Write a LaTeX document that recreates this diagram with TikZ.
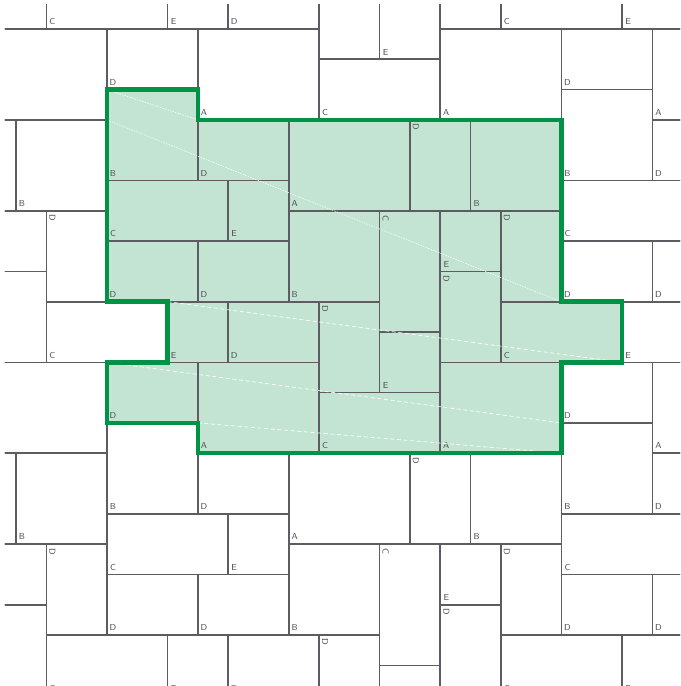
\documentclass[tikz,border=0pt]{standalone}
\definecolor{tilegreen}{RGB}{195,228,210}
\definecolor{edgegreen}{RGB}{0,146,69}
\definecolor{jointgray}{RGB}{92,92,98}
\tikzset{
  joint/.style={draw=jointgray, line width=1.2pt},
  tag/.style={font=\sffamily\fontsize{6.5}{7}\selectfont, text=jointgray!85!black, inner sep=0pt},
  outline/.style={draw=edgegreen, line width=3.4pt, line join=miter},
  guide/.style={draw=white, line width=0.5pt, dash pattern=on 1pt off 1pt},
  guidelong/.style={draw=white, line width=0.5pt, dash pattern=on 3pt off 2pt},
}
\begin{document}
\begin{tikzpicture}[x=0.8cm, y=-0.8cm]
  \useasboundingbox (-0.528,-0.957) rectangle (21.914,21.683);
  \clip (-0.363,-0.792) rectangle (21.914,21.683);

  % Vùng cơ sở tô màu
  \fill[tilegreen] (3,2) -- (6,2) -- (6,3) -- (18,3) -- (18,9) -- (20,9) -- (20,11)
    -- (18,11) -- (18,14) -- (6,14) -- (6,13) -- (3,13) -- (3,11) -- (5,11)
    -- (5,9) -- (3,9) -- cycle;

  % Các viên gạch, lặp theo chu kỳ 15 x 11
  \foreach \dx [count=\p] in {-15,0,15} {
    \foreach \dy [count=\q] in {-11,0,11} {
      \foreach \x/\y/\w/\h/\t/\r [count=\i] in {
          3/2/3/3/B/0, 6/3/3/2/D/0, 9/3/4/3/A/0, 13/3/2/3/D/1, 15/3/3/3/B/0,
          3/5/4/2/C/0, 7/5/2/2/E/0, 3/7/3/2/D/0, 6/7/3/2/D/0, 9/6/3/3/B/0,
          12/6/2/4/C/1, 14/6/2/2/E/0, 16/6/2/3/D/1, 14/8/2/3/D/1, 16/9/4/2/C/0,
          12/10/2/2/E/0, 10/9/2/3/D/1, 10/12/4/2/C/0, 14/11/4/3/A/0, 5/9/2/2/E/0,
          7/9/3/2/D/0, 3/11/3/2/D/0, 6/11/4/3/A/0} {
        \draw[joint] (\x+\dx,\y+\dy) rectangle ++(\w,\h);
        % chỉ đặt nhãn nằm trong khung nhìn
        \pgfmathsetmacro\lx{\x+\dx+0.2}
        \pgfmathsetmacro\ly{\r==0 ? \y+\dy+\h-0.24 : \y+\dy+0.24}
        \pgfmathparse{(\lx>-0.4)&&(\lx<21.9)&&(\ly>-0.8)&&(\ly<21.8) ? 1 : 0}
        \ifnum\pgfmathresult=1
          \ifnum\r=0
            \node[tag] (tag-\p-\q-\i) at (\lx,\ly) {\t};
          \else
            \node[tag, rotate=-90] (tag-\p-\q-\i) at (\lx,\ly) {\t};
          \fi
        \fi
      }
    }
  }

  % Các đường chéo trắng
  \draw[guide] (3,2) -- (6,3);
  \draw[guide] (3,3) -- (18,9);
  \draw[guidelong] (5,9) -- (20,11);
  \draw[guidelong] (3,11) -- (18,13);
  \draw[guidelong] (6,13) -- (18,14);

  % Đường viền xanh
  \draw[outline] (3,2) -- (6,2) -- (6,3) -- (18,3) -- (18,9) -- (20,9) -- (20,11)
    -- (18,11) -- (18,14) -- (6,14) -- (6,13) -- (3,13) -- (3,11) -- (5,11)
    -- (5,9) -- (3,9) -- cycle;
\end{tikzpicture}
\end{document}
